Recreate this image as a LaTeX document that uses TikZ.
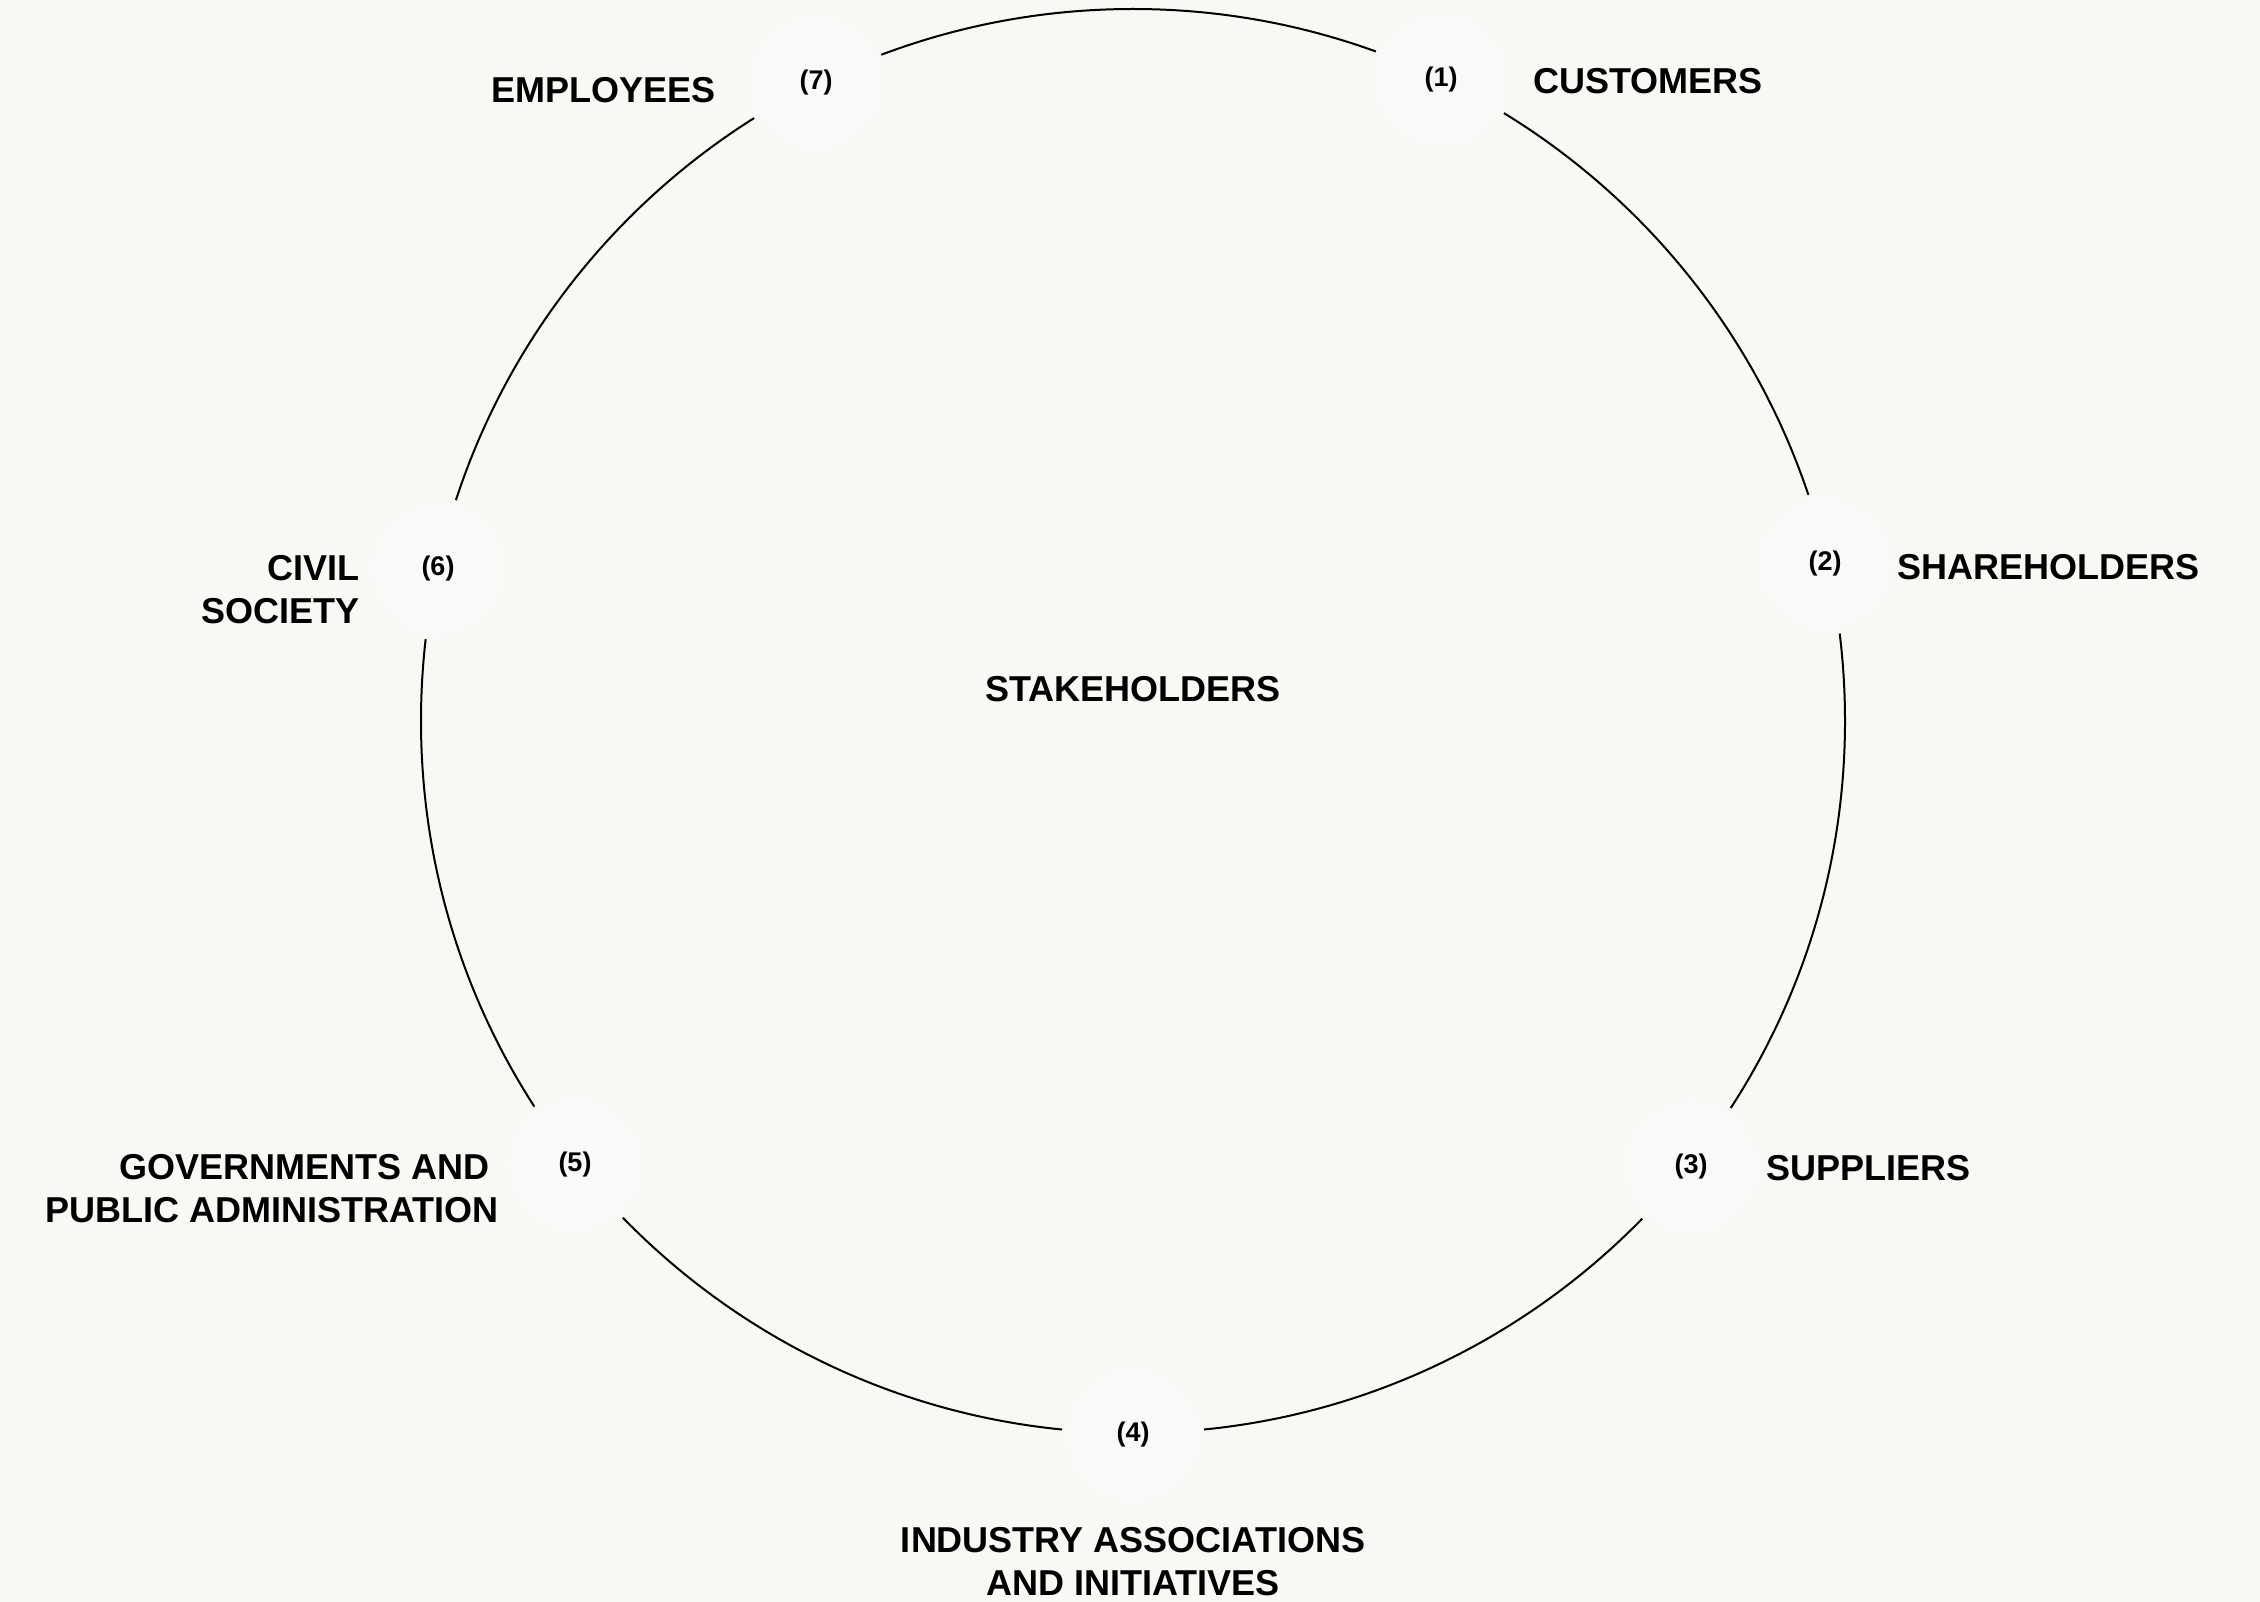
\documentclass[tikz,border=0pt]{standalone}
\usepackage{fontspec}
\setmainfont{Liberation Sans}
\definecolor{bg}{HTML}{F8F8F5}
\definecolor{badgefill}{HTML}{FAF9F8}
\begin{document}
\begin{tikzpicture}[x=1pt,y=-1pt,
  badge/.style={circle,fill=badgefill,minimum size=142pt,inner sep=0pt,
    font=\fontsize{27}{32}\selectfont\bfseries},
  lbl/.style={inner sep=0pt,font=\fontsize{36}{43}\selectfont\bfseries},
  ring/.style={line width=2pt,draw=black}]
\fill[bg] (0,0) rectangle (2260,1602);
\useasboundingbox (0,0) rectangle (2260,1602);
\coordinate (C) at (1133,721);
\draw[ring] (C) circle[radius=712pt];
\node[badge] (b1) at (1441,80) {(1)};
\node[badge] (b2) at (1825,564) {(2)};
\node[badge] (b3) at (1691,1167) {(3)};
\node[badge] (b4) at (1133,1435) {(4)};
\node[badge] (b5) at (575,1165) {(5)};
\node[badge] (b6) at (438,569) {(6)};
\node[badge] (b7) at (816,83) {(7)};
\node[lbl,anchor=west] (l1) at (1533,81) {CUSTOMERS};
\node[lbl,anchor=west] (l2) at (1897,567) {SHAREHOLDERS};
\node[lbl,anchor=west] (l3) at (1766,1168) {SUPPLIERS};
\node[lbl,align=center] (l4) at (1133,1562) {INDUSTRY ASSOCIATIONS\\AND INITIATIVES};
\node[lbl,anchor=east,align=right] (l5) at (499,1189) {GOVERNMENTS AND\hspace*{9pt}\\PUBLIC ADMINISTRATION};
\node[lbl,anchor=east,align=right] (l6) at (360,590) {CIVIL\\SOCIETY};
\node[lbl,anchor=east] (l7) at (716,90) {EMPLOYEES};
\node[lbl] (center) at (1133,689) {STAKEHOLDERS};
\end{tikzpicture}
\end{document}
